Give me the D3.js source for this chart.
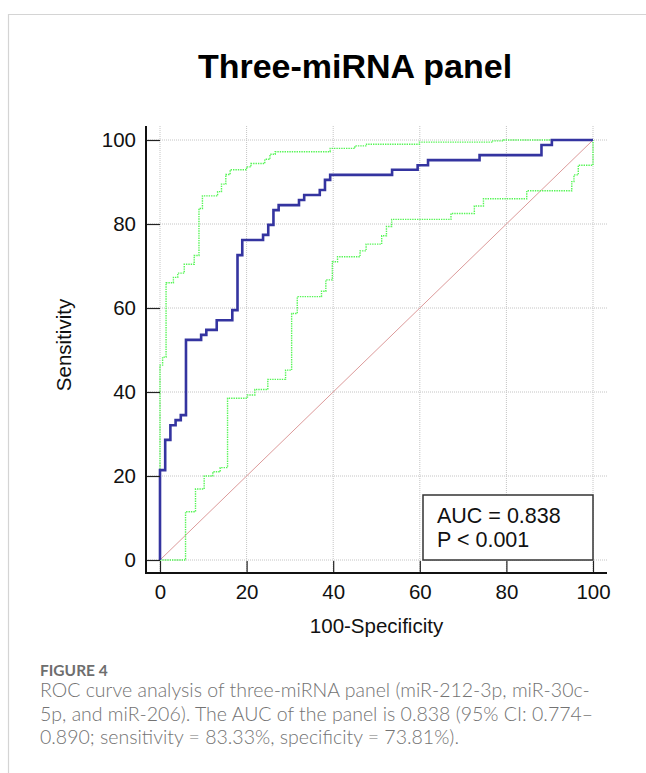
<!DOCTYPE html>
<html>
<head>
<meta charset="utf-8">
<script src="https://cdn.jsdelivr.net/npm/d3@7"></script>
<style>
  body { margin: 0; background: #fff; }
  svg { display: block; }
</style>
</head>
<body>
<div id="chart"></div>
<script>
// ROC curve (100-specificity, sensitivity), step corners
const rocX = [0, 0, 1.2, 2.4, 3.6, 4.8, 6.0, 9.5, 10.7, 13.1, 16.7, 17.9, 19.0, 23.8, 25.0, 26.2, 27.4, 32.1, 33.3, 36.9, 38.1, 39.3, 53.6, 59.5, 61.9, 73.8, 88.1, 90.5, 100];
const rocY = [0, 21.4, 28.6, 32.1, 33.3, 34.5, 52.4, 53.6, 54.8, 57.1, 59.5, 72.6, 76.2, 77.4, 79.8, 83.3, 84.5, 85.7, 86.9, 88.1, 90.5, 91.7, 92.9, 94.0, 95.2, 96.4, 98.8, 100, 100];

// 95% confidence bounds
const upperX = [0, 0, 0.6, 1.4, 3.1, 4.1, 5.6, 7.9, 9.0, 9.8, 13.3, 14.2, 15.2, 16.2, 20.0, 21.0, 24.2, 25.4, 26.6, 39.3, 45.0, 47.7, 59.9, 76.6, 79.3, 100];
const upperY = [0, 46.4, 48.3, 66.0, 67.3, 68.3, 70.4, 72.5, 83.7, 86.7, 87.7, 89.5, 91.8, 92.9, 93.6, 94.4, 95.4, 96.6, 97.2, 98.0, 98.6, 99.0, 99.5, 99.8, 100, 100];
const lowerX = [0, 5.9, 8.2, 10.2, 12.2, 13.9, 15.6, 20.2, 21.9, 24.9, 29.0, 30.4, 31.7, 37.3, 38.3, 39.8, 41.0, 46.2, 47.6, 51.2, 52.3, 53.5, 67.2, 72.6, 74.7, 84.7, 95.1, 95.6, 96.6, 100];
const lowerY = [0, 11.5, 16.9, 20.0, 21.0, 22.0, 38.5, 39.3, 40.6, 43.0, 45.2, 58.7, 62.7, 64.0, 66.7, 71.0, 72.2, 73.6, 75.2, 77.2, 79.4, 81.1, 82.5, 84.3, 86.0, 87.9, 90.1, 91.7, 94.0, 100];

const refX = [0, 100];
const refY = [0, 100];

const majorTicks = [0, 20, 40, 60, 80, 100];
const minorTicks = d3.range(0, 101, 5);

const chartTitle = "Three-miRNA panel";
const xLabel = "100-Specificity";
const yLabel = "Sensitivity";
const statLines = ["AUC = 0.838", "P < 0.001"];
const figLabel = "FIGURE 4";
const captionLines = [
  "ROC curve analysis of three-miRNA panel (miR-212-3p, miR-30c-",
  "5p, and miR-206). The AUC of the panel is 0.838 (95% CI: 0.774\u2013",
  "0.890; sensitivity = 83.33%, specificity = 73.81%)."
];

const width = 646, height = 773;
const font = "'Liberation Sans', Arial, sans-serif";
const capFont = "Lato, 'Open Sans', sans-serif";

const x = d3.scaleLinear().domain([0, 100]).range([160, 593]);
const y = d3.scaleLinear().domain([0, 100]).range([560, 140]);

// axis frame sits a bit outside the data range
const axLeft = x(0) - 14, axRight = x(100) + 14;
const axTop = y(100) - 14, axBottom = y(0) + 13;

const svg = d3.select("#chart").append("svg")
  .attr("width", width)
  .attr("height", height);

svg.append("rect").attr("width", width).attr("height", height).attr("fill", "#fff");

// figure frame (left + top rules)
svg.append("path")
  .attr("d", `M8.5,${height}V14.5H${width}`)
  .attr("fill", "none")
  .attr("stroke", "#d4d4d4")
  .attr("stroke-width", 1.2);

svg.append("text")
  .attr("x", 355).attr("y", 78)
  .attr("text-anchor", "middle")
  .style("font-family", font)
  .style("font-weight", "bold")
  .style("font-size", "34px")
  .text(chartTitle);

// grid
const grid = svg.append("g")
  .attr("stroke", "#c4c4c4")
  .attr("stroke-width", 1)
  .attr("stroke-dasharray", "1,1");
grid.selectAll(".gx").data(majorTicks).join("line")
  .attr("x1", d => x(d)).attr("x2", d => x(d))
  .attr("y1", axTop).attr("y2", axBottom);
grid.selectAll(".gy").data(majorTicks).join("line")
  .attr("x1", axLeft).attr("x2", axRight)
  .attr("y1", d => y(d)).attr("y2", d => y(d));

const line = d3.line()
  .x(d => x(d[0]))
  .y(d => y(d[1]))
  .curve(d3.curveStepAfter);

svg.append("path")
  .attr("d", d3.line().x(d => x(d[0])).y(d => y(d[1]))(d3.zip(refX, refY)))
  .attr("fill", "none")
  .attr("stroke", "#dc9a9a")
  .attr("stroke-width", 1);

[[upperX, upperY], [lowerX, lowerY]].forEach(([xs, ys]) => {
  svg.append("path")
    .attr("d", line(d3.zip(xs, ys)))
    .attr("fill", "none")
    .attr("stroke", "#55f555")
    .attr("stroke-width", 1.4)
    .attr("stroke-dasharray", "1.4,1");
});

svg.append("path")
  .attr("d", line(d3.zip(rocX, rocY)))
  .attr("fill", "none")
  .attr("stroke", "#3434a0")
  .attr("stroke-width", 2.6);

// axes
const xAxis = svg.append("g").attr("transform", `translate(0,${axBottom})`);
xAxis.call(d3.axisBottom(x).tickValues(minorTicks).tickSize(-7).tickFormat(""));
xAxis.call(d3.axisBottom(x).tickValues(majorTicks).tickSizeInner(-12).tickSizeOuter(0).tickPadding(11));
xAxis.selectAll(".domain").remove();
xAxis.selectAll("line").attr("stroke", "#222").attr("stroke-width", 1.2);
xAxis.selectAll("text").style("font-family", font).style("font-size", "20.5px").attr("fill", "#111");

const yAxis = svg.append("g").attr("transform", `translate(${axLeft},0)`);
yAxis.call(d3.axisLeft(y).tickValues(minorTicks).tickSize(-7).tickFormat(""));
yAxis.call(d3.axisLeft(y).tickValues(majorTicks).tickSizeInner(-14).tickSizeOuter(0).tickPadding(10));
yAxis.selectAll(".domain").remove();
yAxis.selectAll("line").attr("stroke", "#222").attr("stroke-width", 1.2);
yAxis.selectAll("text").style("font-family", font).style("font-size", "20.5px").attr("fill", "#111");

svg.append("path")
  .attr("d", `M${axLeft},${axTop}V${axBottom}H${axRight}`)
  .attr("fill", "none")
  .attr("stroke", "#111")
  .attr("stroke-width", 2);

svg.append("text")
  .attr("x", (x(0) + x(100)) / 2).attr("y", 633)
  .attr("text-anchor", "middle")
  .style("font-family", font).style("font-size", "20.5px").attr("fill", "#111")
  .text(xLabel);

svg.append("text")
  .attr("transform", `translate(71,345) rotate(-90)`)
  .attr("text-anchor", "middle")
  .style("font-family", font).style("font-size", "20.5px").attr("fill", "#111")
  .text(yLabel);

// stats box
const box = svg.append("g");
box.append("rect")
  .attr("x", 423).attr("y", 495).attr("width", 170).attr("height", 65)
  .attr("fill", "#fff").attr("stroke", "#333").attr("stroke-width", 1.5);
box.selectAll("text").data(statLines).join("text")
  .attr("x", 437).attr("y", (d, i) => 523 + i * 24)
  .style("font-family", font).style("font-size", "21.5px").attr("fill", "#111")
  .text(d => d);

// caption
svg.append("text")
  .attr("x", 40).attr("y", 676)
  .style("font-family", capFont)
  .style("font-size", "15.5px").style("font-weight", "bold")
  .attr("fill", "#6e6e6e")
  .text(figLabel);
svg.selectAll(".cap").data(captionLines).join("text")
  .attr("x", 40).attr("y", (d, i) => 697 + i * 23.5)
  .style("font-family", capFont)
  .style("font-size", "19.5px")
  .style("font-weight", 300)
  .attr("fill", "#737373")
  .text(d => d);
</script>
</body>
</html>
